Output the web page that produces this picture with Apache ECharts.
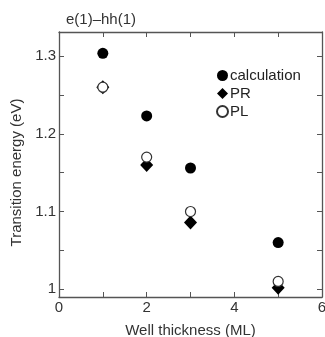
<!DOCTYPE html>
<html>
<head>
<meta charset="utf-8">
<script src="https://cdn.jsdelivr.net/npm/echarts@6/dist/echarts.min.js"></script>
<style>
  html, body { margin: 0; padding: 0; background: #fff; }
  #chart { width: 325px; height: 337px; }
</style>
</head>
<body>
<div id="chart"></div>
<script>
const wellThickness = [1, 2, 3, 5];
const calculation = [1.3035, 1.223, 1.156, 1.06];
const prValues = [1.26, 1.16, 1.086, 1.002];
const plValues = [1.26, 1.17, 1.10, 1.01];
const xTicks = [0, 1, 2, 3, 4, 5, 6];
const xLabels = [0, 2, 4, 6];
const yTicks = [1.0, 1.05, 1.1, 1.15, 1.2, 1.25, 1.3];
const yLabels = [1.0, 1.1, 1.2, 1.3];

const pairs = (ys) => wellThickness.map((x, i) => [x, ys[i]]);
const font = 'Liberation Sans, Arial, sans-serif';
const axisColor = '#555';
const txt = '#333';

const baseX = {
  type: 'value', min: 0, max: 6,
  axisLine: { show: true, onZero: false, lineStyle: { color: axisColor, width: 1.3 } },
  axisTick: { show: true, inside: true, length: 5, customValues: xTicks, lineStyle: { color: axisColor } },
  splitLine: { show: false }
};
const baseY = {
  type: 'value', min: 0.99, max: 1.331,
  axisLine: { show: true, onZero: false, lineStyle: { color: axisColor, width: 1.3 } },
  axisTick: { show: true, inside: true, length: 5, customValues: yTicks, lineStyle: { color: axisColor } },
  splitLine: { show: false }
};

const chart = echarts.init(document.getElementById('chart'));
chart.setOption({
  animation: false,
  backgroundColor: '#fff',
  textStyle: { fontFamily: font },
  title: {
    text: 'e(1)–hh(1)', left: 61, top: 7,
    textStyle: { fontSize: 15, fontWeight: 'normal', color: txt, fontFamily: font }
  },
  grid: { left: 59, right: 3, top: 32, bottom: 40, containLabel: false, outerBoundsMode: 'none' },
  legend: {
    orient: 'vertical', left: 211, top: 63, itemGap: 3,
    itemWidth: 11, itemHeight: 11,
    textStyle: { fontSize: 15, color: '#222', fontFamily: font, padding: [0, 0, 0, -3] },
    data: ['calculation', 'PR', 'PL']
  },
  xAxis: [
    Object.assign({}, baseX, {
      position: 'bottom',
      name: 'Well thickness (ML)', nameLocation: 'middle', nameGap: 26,
      nameTextStyle: { fontSize: 15, color: txt, fontFamily: font },
      axisLabel: { customValues: xLabels, fontSize: 15, color: txt, margin: 3, fontFamily: font }
    }),
    Object.assign({}, baseX, { position: 'top', axisLabel: { show: false } })
  ],
  yAxis: [
    Object.assign({}, baseY, {
      position: 'left',
      name: 'Transition energy (eV)', nameLocation: 'middle', nameGap: 27,
      nameTextStyle: { fontSize: 15, color: txt, fontFamily: font, padding: [0, 16, 0, 0] },
      axisLabel: {
        customValues: yLabels, fontSize: 15, color: txt, margin: 3, fontFamily: font,
        formatter: (v) => (Math.round(v * 10) / 10).toString()
      }
    }),
    Object.assign({}, baseY, { position: 'right', axisLabel: { show: false } })
  ],
  series: [
    {
      name: 'calculation', type: 'scatter', symbol: 'circle', symbolSize: 11,
      itemStyle: { color: '#000', opacity: 1 }, data: pairs(calculation)
    },
    {
      name: 'PR', type: 'scatter', symbol: 'diamond', symbolSize: [13, 14],
      itemStyle: { color: '#000', opacity: 1 }, data: pairs(prValues)
    },
    {
      name: 'PL', type: 'scatter', symbol: 'circle', symbolSize: 10,
      itemStyle: { color: '#fff', borderColor: '#333', borderWidth: 1.2, opacity: 1 }, data: pairs(plValues)
    }
  ]
});
</script>
</body>
</html>
